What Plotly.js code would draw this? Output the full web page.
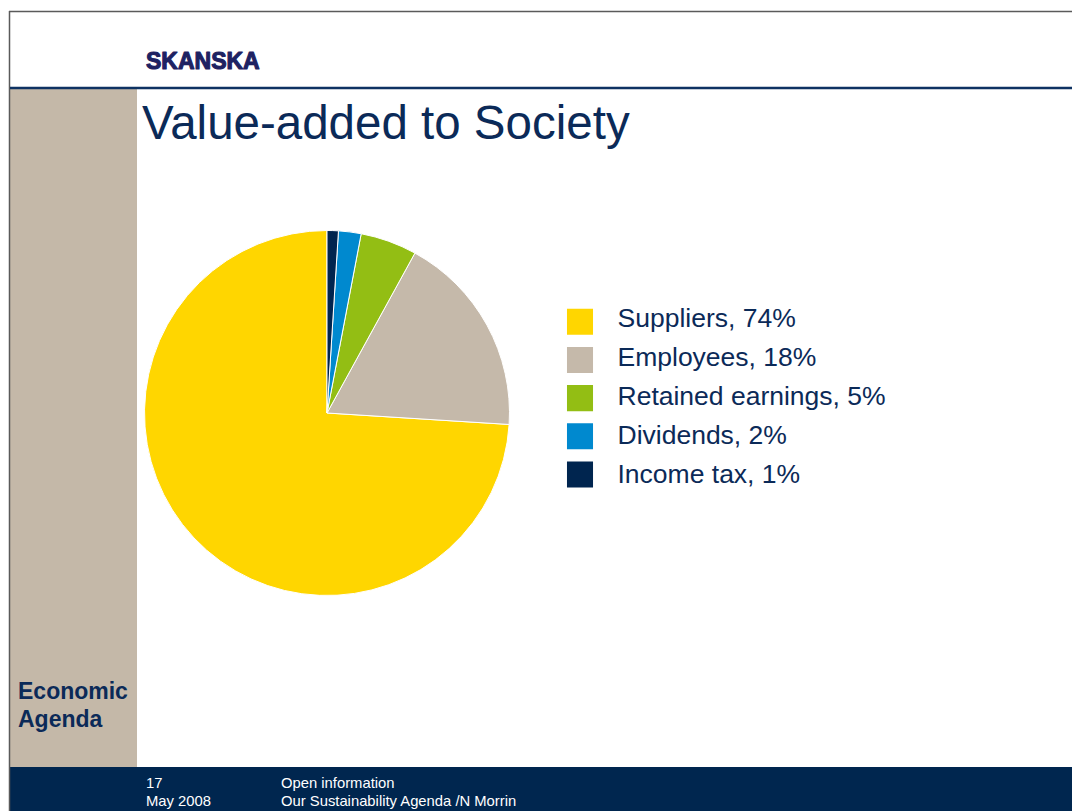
<!DOCTYPE html>
<html>
<head>
<meta charset="utf-8">
<script src="https://cdn.plot.ly/plotly-3.0.1.min.js"></script>
<style>
  html, body { margin: 0; padding: 0; background: #ffffff; }
  #chart { width: 1072px; height: 811px; }
</style>
</head>
<body>
<div id="chart"></div>
<script>
// ---- data ----
var categories = ["Suppliers", "Employees", "Retained earnings", "Dividends", "Income tax"];
var shares = [74, 18, 5, 2, 1];
var sliceColors = ["#FFD600", "#C5B9AA", "#93BE14", "#0089CF", "#00254F"];

var titleText = "Value-added to Society";
var logoText = "SKANSKA";
var sideText = ["Economic", "Agenda"];
var footerLeft = ["17", "May 2008"];
var footerRight = ["Open information", "Our Sustainability Agenda /N Morrin"];

// ---- helpers for slide geometry (pixel -> paper) ----
var W = 1072, H = 811;
function px(x) { return x / W; }
function py(y) { return 1 - y / H; }

var FONT = "Liberation Sans, Arial, Helvetica, sans-serif";
var NAVY_TEXT = "#0B2A58";

var labels = categories.map(function (c, i) { return c + ", " + shares[i] + "%"; });
var total = shares.reduce(function (a, b) { return a + b; }, 0);

// In counterclockwise mode Plotly puts the first slice clockwise of the start angle;
// rotate so the first slice (Suppliers) ends the circle at 12 o'clock going counterclockwise.
var startRotation = 360 * (total - shares[0]) / total;

var trace = {
  type: "pie",
  labels: labels,
  values: shares,
  sort: false,
  direction: "counterclockwise",
  rotation: startRotation,
  textinfo: "none",
  hoverinfo: "none",
  marker: { colors: sliceColors, line: { color: "#ffffff", width: 1 } },
  domain: { x: [px(144.5), px(509.5)], y: [py(595.5), py(230.5)] }
};

var shapes = [
  // left sidebar
  { type: "rect", layer: "below", xref: "paper", yref: "paper",
    x0: px(10), x1: px(137), y0: py(767), y1: py(89),
    fillcolor: "#C4B8A8", line: { width: 0 } },
  // footer band
  { type: "rect", layer: "below", xref: "paper", yref: "paper",
    x0: px(10), x1: px(1072), y0: py(811), y1: py(767),
    fillcolor: "#00264F", line: { width: 0 } },
  // top grey border
  { type: "line", layer: "below", xref: "paper", yref: "paper",
    x0: px(9), x1: px(1072), y0: py(11.5), y1: py(11.5),
    line: { color: "#5A5A5A", width: 1.5 } },
  // left grey border
  { type: "line", layer: "below", xref: "paper", yref: "paper",
    x0: px(9.5), x1: px(9.5), y0: py(11), y1: py(811),
    line: { color: "#5A5A5A", width: 1.5 } },
  // blue header rule
  { type: "line", layer: "below", xref: "paper", yref: "paper",
    x0: px(10), x1: px(1072), y0: py(88), y1: py(88),
    line: { color: "#0E3262", width: 2.5 } }
];

function ann(text, x, yMid, size, color, bold) {
  return {
    text: bold ? "<b>" + text + "</b>" : text,
    xref: "paper", yref: "paper",
    x: px(x), y: py(yMid),
    xanchor: "left", yanchor: "middle",
    showarrow: false,
    font: { family: FONT, size: size, color: color }
  };
}
var FS_FOOT = 14.8;
// middle of text box ~ baseline - 0.35*size
var annotations = [
  ann(logoText, 143.5, 69 - 0.35 * 23, 23, "#1E2262", true),
  ann(sideText[0], 16, 699 - 0.35 * 23, 23, NAVY_TEXT, true),
  ann(sideText[1], 16, 727 - 0.35 * 23, 23, NAVY_TEXT, true),
  ann(footerLeft[0], 144.3, 787.7 - 0.35 * FS_FOOT, FS_FOOT, "#ffffff", false),
  ann(footerLeft[1], 144.3, 806 - 0.35 * FS_FOOT, FS_FOOT, "#ffffff", false),
  ann(footerRight[0], 279.3, 787.7 - 0.35 * FS_FOOT, FS_FOOT, "#ffffff", false),
  ann(footerRight[1], 279.3, 806 - 0.35 * FS_FOOT, FS_FOOT, "#ffffff", false)
];

var layout = {
  width: W, height: H,
  margin: { l: 0, r: 0, t: 0, b: 0, pad: 0 },
  paper_bgcolor: "#ffffff",
  plot_bgcolor: "#ffffff",
  font: { family: FONT, color: NAVY_TEXT },
  title: {
    text: titleText,
    xref: "paper", yref: "container",
    x: px(142), xanchor: "left",
    y: py(139.3), yanchor: "bottom",
    font: { family: FONT, size: 47.5, color: NAVY_TEXT }
  },
  showlegend: true,
  legend: {
    x: px(542.5), xanchor: "left",
    y: py(293), yanchor: "top",
    bgcolor: "rgba(0,0,0,0)",
    borderwidth: 0,
    itemwidth: 65,
    font: { family: FONT, size: 26.5, color: NAVY_TEXT },
    traceorder: "normal"
  },
  shapes: shapes,
  annotations: annotations
};

function tuneLegend(gd) {
  var items = gd.querySelectorAll(".legend .traces");
  var textStep = 39;
  var first = null;
  items.forEach(function (g, i) {
    var t = g.getAttribute("transform") || "";
    var m = /translate\(\s*([-\d.]+)[ ,]+([-\d.]+)\s*\)/.exec(t);
    if (!m) return;
    if (first === null) first = [parseFloat(m[1]), parseFloat(m[2])];
    g.setAttribute("transform", "translate(" + first[0] + "," + (first[1] + i * textStep) + ")");
    var p = g.querySelector(".legendpoints path");
    if (p) {
      var pt = p.getAttribute("transform") || "";
      var pm = /translate\(\s*([-\d.]+)/.exec(pt);
      var cx = pm ? parseFloat(pm[1]) : 20;
      var dy = 5.1 - 0.85 * i;
      p.setAttribute("transform", "translate(" + cx + "," + dy + ") scale(2.17)");
      p.style.strokeWidth = "0";
    }
  });
  // heavier logo lettering
  gd.querySelectorAll(".annotation-text").forEach(function (t) {
    if (t.textContent === logoText) {
      t.style.stroke = "#1E2262";
      t.style.strokeWidth = "1.1px";
      t.style.strokeLinejoin = "round";
    }
  });
}

Plotly.newPlot("chart", [trace], layout, { staticPlot: true, displayModeBar: false })
  .then(tuneLegend);
</script>
</body>
</html>
